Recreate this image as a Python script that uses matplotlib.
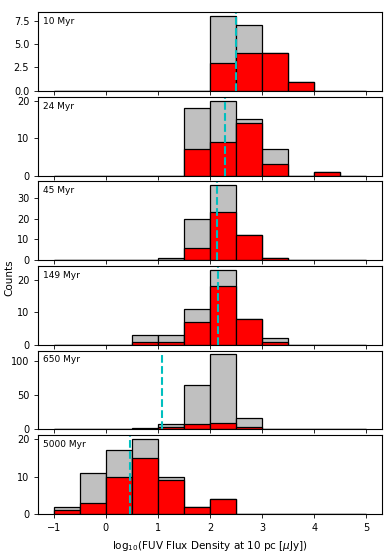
import numpy as np
import matplotlib
matplotlib.use("Agg")
import matplotlib.pyplot as plt

bin_edges = np.arange(-1.0, 5.01, 0.5)
bin_centers = (bin_edges[:-1] + bin_edges[1:]) / 2

ages = ["10 Myr", "24 Myr", "45 Myr", "149 Myr", "650 Myr", "5000 Myr"]

# counts per 0.5-dex bin from -1 to 5
all_counts = [
    [0, 0, 0, 0, 0, 0, 8, 7, 4, 1, 0, 0],
    [0, 0, 0, 0, 0, 18, 20, 15, 7, 0, 1, 0],
    [0, 0, 0, 0, 1, 20, 36, 12, 1, 0, 0, 0],
    [0, 0, 0, 3, 3, 11, 23, 8, 2, 0, 0, 0],
    [0, 0, 0, 2, 8, 65, 109, 17, 0, 1, 0, 0],
    [2, 11, 17, 20, 10, 2, 4, 0, 0, 0, 0, 0],
]
sub_counts = [
    [0, 0, 0, 0, 0, 0, 3, 4, 4, 1, 0, 0],
    [0, 0, 0, 0, 0, 7, 9, 14, 3, 0, 1, 0],
    [0, 0, 0, 0, 0, 6, 23, 12, 1, 0, 0, 0],
    [0, 0, 0, 1, 1, 7, 18, 8, 1, 0, 0, 0],
    [0, 0, 0, 1, 3, 8, 10, 4, 0, 0, 0, 0],
    [1, 3, 10, 15, 9, 2, 4, 0, 0, 0, 0, 0],
]
median_lines = [2.49, 2.29, 2.14, 2.16, 1.07, 0.47]

yticks = [
    [0, 2.5, 5.0, 7.5],
    [0, 10, 20],
    [0, 10, 20, 30],
    [0, 10, 20],
    [0, 50, 100],
    [0, 10, 20],
]

fig, axes = plt.subplots(6, 1, figsize=(3.9, 5.56), dpi=100, sharex=True)
fig.subplots_adjust(left=0.098, right=0.979, top=0.978, bottom=0.0755, hspace=0.076)

for i, ax in enumerate(axes):
    ax.hist(bin_centers, bins=bin_edges, weights=all_counts[i], color="silver",
            edgecolor="black", linewidth=0.9)
    ax.hist(bin_centers, bins=bin_edges, weights=sub_counts[i], color="red",
            edgecolor="black", linewidth=0.9)
    ax.axvline(median_lines[i], color="c", linestyle="--", linewidth=1.5)
    ax.set_yticks(yticks[i])
    if i == 0:
        ax.set_yticklabels(["0.0", "2.5", "5.0", "7.5"])
    ax.tick_params(labelsize=7, length=3, width=0.6)
    ax.text(0.015, 0.94, ages[i], transform=ax.transAxes, va="top", ha="left", fontsize=6.5)
    for s in ax.spines.values():
        s.set_linewidth(0.8)

axes[-1].set_xticks([-1, 0, 1, 2, 3, 4, 5])
axes[-1].set_xlabel(r"log$_{10}$(FUV Flux Density at 10 pc [$\mu$Jy])", fontsize=7.5)
fig.supylabel("Counts", fontsize=7.5, x=0.012)

fig.savefig("out.png", dpi=100)
